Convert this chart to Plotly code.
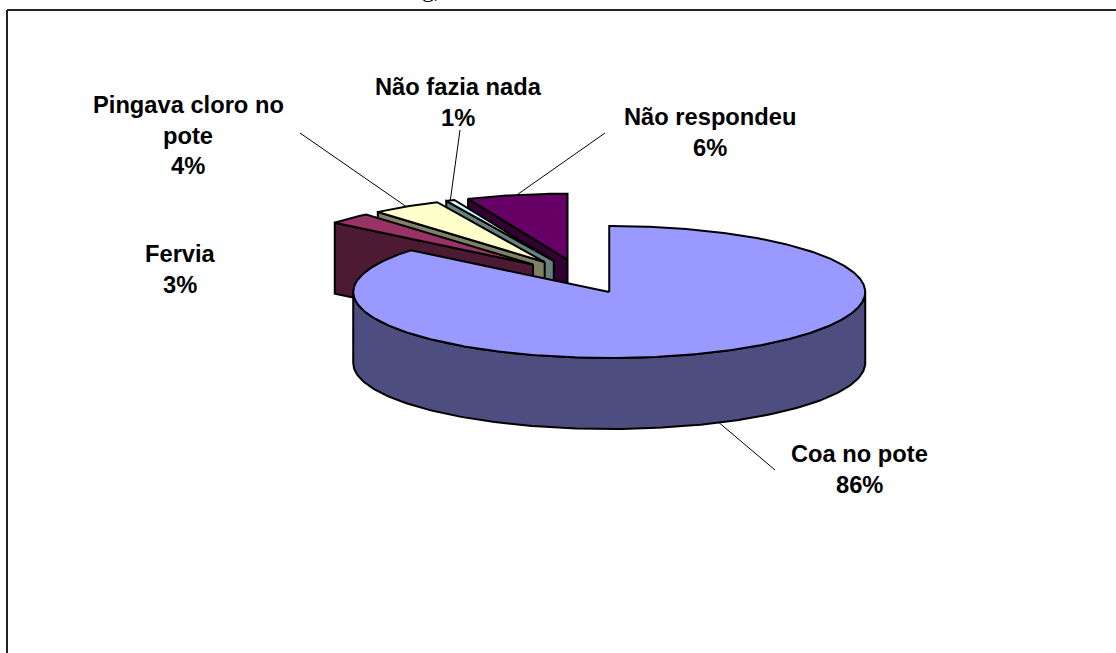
import numpy as np
import plotly.graph_objects as go

categories = ["Coa no pote", "Fervia", "Pingava cloro no pote", "Não fazia nada", "Não respondeu"]
values = [85.9, 2.8, 4.4, 0.55, 6.35]
label_lines = [["Coa no pote"], ["Fervia"], ["Pingava cloro no", "pote"], ["Não fazia nada"], ["Não respondeu"]]
top_colors = ["#9999FF", "#993366", "#FFFFCC", "#CCFFFF", "#660066"]
side_colors = ["#4D4D80", "#4D1A33", "#808066", "#668080", "#330033"]

# pie geometry (pixels)
CX, CY = 580.7, 276.5
RX, RY = 256.0, 66.0
DEPTH = 71.0
EXPLODE = 0.26
LABEL_CENTERS = [(859, 454), (180, 254), (188, 105), (458, 87), (710, 117)]
LEADER_ENDS = [(775, 470), None, (300, 133), (460, 130), (605, 133)]
LINE_GAP = 30.5
FONT = dict(family="Liberation Sans", size=23.7, color="black")


def ell(theta_deg, cx, cy):
    t = np.radians(theta_deg)
    return cx + RX * np.sin(t), cy - RY * np.cos(t)


fig = go.Figure()


def poly(xs, ys, color, name):
    fig.add_trace(go.Scatter(
        x=list(xs), y=list(ys), mode="lines", fill="toself", fillcolor=color,
        line=dict(color="black", width=2), hoverinfo="skip", showlegend=False, name=name,
    ))


total = sum(values)
edges = np.concatenate([[0], np.cumsum(values)]) / total * 360.0
slices = []
for i, name in enumerate(categories):
    a, b = edges[i], edges[i + 1]
    mid = (a + b) / 2
    t = np.radians(mid)
    cx = CX + EXPLODE * RX * np.sin(t)
    cy = CY - EXPLODE * RY * np.cos(t)
    slices.append((i, name, a, b, mid, cx, cy))

# painter's order: back slices first, the front one last
for i, name, a, b, mid, cx, cy in reversed(slices):
    if i > 0:
        ex, ey = ell(a, cx, cy)
        poly([cx, ex, ex, cx, cx], [cy, ey, ey + DEPTH, cy + DEPTH, cy], side_colors[i], name + " wall")
    lo, hi = max(a, 90), min(b, 270)
    if hi > lo:
        th = np.linspace(lo, hi, 160)
        xs, ys = ell(th, cx, cy)
        poly(np.r_[xs, xs[::-1], xs[0]], np.r_[ys, ys[::-1] + DEPTH, ys[0]], side_colors[i], name + " rim")
    th = np.linspace(a, b, max(int(b - a) * 2, 12))
    xs, ys = ell(th, cx, cy)
    poly(np.r_[cx, xs, cx], np.r_[cy, ys, cy], top_colors[i], name)

# leader lines and labels
for i, name, a, b, mid, cx, cy in slices:
    sx, sy = ell(mid, cx, cy)
    if 90 < mid < 270:
        sy += DEPTH
    if LEADER_ENDS[i]:
        ex, ey = LEADER_ENDS[i]
        fig.add_trace(go.Scatter(x=[sx, ex], y=[sy, ey], mode="lines",
                                 line=dict(color="black", width=1), hoverinfo="skip", showlegend=False))
    lines = label_lines[i] + [f"{values[i]:.0f}%"]
    lx, ly = LABEL_CENTERS[i]
    for k, line in enumerate(lines):
        fig.add_annotation(x=lx, y=ly + k * LINE_GAP, text=f"<b>{line}</b>", showarrow=False,
                           xanchor="center", yanchor="middle", font=FONT)

# chart frame and the clipped caption remnant above it
fig.add_shape(type="line", x0=7, x1=1116, y0=10, y1=10, line=dict(color="#222222", width=2))
fig.add_shape(type="line", x0=7, x1=7, y0=10, y1=653, line=dict(color="#222222", width=2))
fig.add_annotation(xref="paper", yref="paper", x=431 / 1116, y=1 + 11 / 653, text="g,", showarrow=False,
                   xanchor="center", yanchor="middle",
                   font=dict(family="Liberation Serif", size=24, color="black"))

fig.update_xaxes(visible=False, range=[0, 1116], fixedrange=True)
fig.update_yaxes(visible=False, range=[653, 0], fixedrange=True)
fig.update_layout(width=1116, height=653, margin=dict(l=0, r=0, t=0, b=0),
                  paper_bgcolor="white", plot_bgcolor="white", showlegend=False)
fig.write_html("out.html", config={"displayModeBar": False},
               post_script="document.body.style.margin='0';document.body.style.overflow='hidden';")
